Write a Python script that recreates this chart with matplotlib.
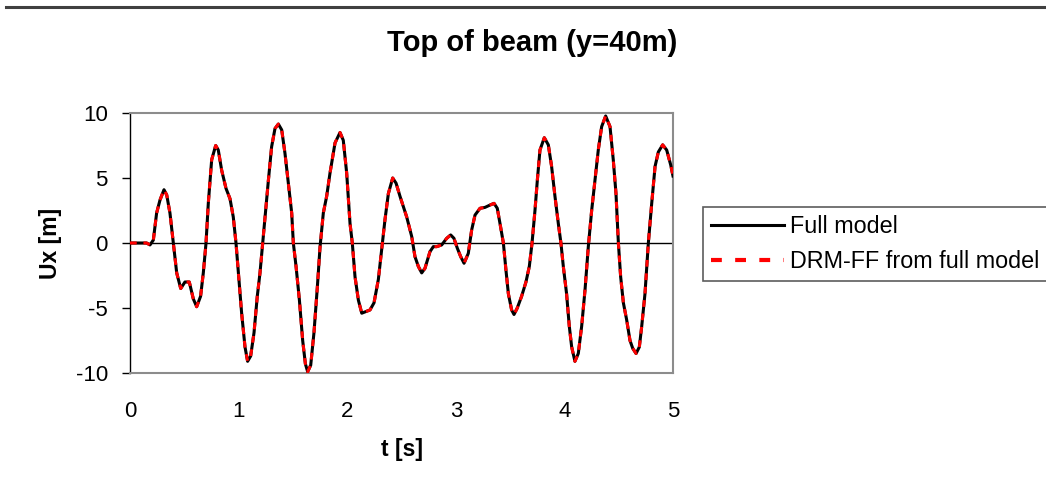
import matplotlib
matplotlib.use("Agg")
import matplotlib.pyplot as plt
from matplotlib.lines import Line2D

plt.rcParams['font.family'] = ['Liberation Sans', 'DejaVu Sans']
plt.rcParams['axes.unicode_minus'] = False

# digitized displacement history at top of beam
t = [0.0, 0.153, 0.184, 0.215, 0.245, 0.276, 0.313, 0.338, 0.368, 0.399,
     0.43, 0.467, 0.506, 0.546, 0.583, 0.614, 0.65, 0.675, 0.70, 0.721,
     0.752, 0.789, 0.813, 0.844, 0.884, 0.921, 0.951, 0.976, 0.998, 1.028,
     1.059, 1.083, 1.111, 1.142, 1.172, 1.197, 1.222, 1.246, 1.274, 1.304,
     1.335, 1.366, 1.397, 1.427, 1.458, 1.489, 1.504, 1.529, 1.56, 1.59,
     1.615, 1.636, 1.664, 1.694, 1.725, 1.75, 1.78, 1.811, 1.842, 1.888,
     1.934, 1.964, 1.995, 2.026, 2.047, 2.072, 2.103, 2.134, 2.164, 2.21,
     2.247, 2.287, 2.317, 2.348, 2.379, 2.419, 2.45, 2.486, 2.548, 2.594,
     2.624, 2.655, 2.686, 2.716, 2.762, 2.793, 2.824, 2.87, 2.916, 2.953,
     2.983, 3.014, 3.045, 3.076, 3.115, 3.146, 3.177, 3.223, 3.269, 3.315,
     3.352, 3.382, 3.407, 3.438, 3.462, 3.484, 3.514, 3.536, 3.566, 3.606,
     3.646, 3.677, 3.702, 3.729, 3.751, 3.775, 3.815, 3.852, 3.882, 3.913,
     3.944, 3.968, 3.99, 4.02, 4.045, 4.067, 4.097, 4.128, 4.159, 4.19,
     4.22, 4.251, 4.282, 4.312, 4.343, 4.38, 4.42, 4.45, 4.475, 4.497,
     4.518, 4.543, 4.573, 4.604, 4.629, 4.66, 4.69, 4.712, 4.742, 4.773,
     4.804, 4.835, 4.865, 4.905, 4.942, 4.979, 5.0]

u_full = [0.0, 0.0, -0.15, 0.23, 2.3, 3.3, 4.1, 3.7, 2.3, 0.0,
          -2.3, -3.5, -3.0, -3.0, -4.3, -4.9, -4.1, -2.3, 0.0, 3.05,
          6.4, 7.5, 7.15, 5.6, 4.2, 3.4, 2.0, 0.0, -2.3, -5.4,
          -8.0, -9.1, -8.7, -6.9, -4.1, -2.3, 0.0, 2.3, 4.8, 7.4,
          8.8, 9.15, 8.7, 6.9, 4.6, 2.3, 0.0, -1.8, -4.4, -7.5,
          -9.3, -9.9, -9.4, -6.9, -3.4, -0.3, 2.3, 3.6, 5.4, 7.7,
          8.5, 7.9, 5.4, 1.5, 0.0, -2.6, -4.4, -5.4, -5.3, -5.15,
          -4.6, -2.8, -0.5, 1.8, 3.8, 5.0, 4.6, 3.6, 2.0, 0.5,
          -1.05, -1.8, -2.3, -1.95, -0.67, -0.28, -0.28, -0.15, 0.36, 0.62,
          0.36, -0.4, -1.05, -1.56, -0.8, 1.0, 2.15, 2.67, 2.74, 2.92,
          3.05, 2.67, 1.5, 0.0, -2.1, -3.9, -5.15, -5.5, -5.0, -4.1,
          -3.0, -1.8, 0.0, 2.5, 4.85, 7.15, 8.1, 7.55, 5.9, 3.6,
          1.5, 0.0, -1.8, -3.9, -6.4, -8.0, -9.1, -8.5, -6.4, -3.6,
          -0.3, 2.5, 4.85, 7.15, 8.95, 9.77, 8.95, 6.4, 3.8, 0.0,
          -2.6, -4.6, -5.9, -7.5, -8.1, -8.5, -8.0, -6.4, -3.9, 0.0,
          3.05, 5.9, 7.0, 7.55, 7.15, 6.0, 5.15]

# DRM-FF result overlays the full model
u_drm = list(u_full)

x_ticks = [0, 1, 2, 3, 4, 5]
y_ticks = [-10, -5, 0, 5, 10]

fig = plt.figure(figsize=(10.46, 4.87), dpi=100)
ax = fig.add_axes([130 / 1046, 114 / 487, 543 / 1046, 260 / 487])

ax.plot(t, u_full, color='black', lw=2.2, label='Full model', zorder=3)
ax.plot(t, u_drm, color='#ff0000', lw=2.2, dashes=(2.2, 2.2),
        label='DRM-FF from full model', zorder=4)
ax.axhline(0, color='black', lw=1, zorder=2)

ax.set_xlim(0, 5)
ax.set_ylim(-10, 10)
ax.set_xticks(x_ticks)
ax.set_yticks(y_ticks)
ax.tick_params(axis='x', length=0, pad=20, labelsize=16)
ax.tick_params(axis='y', length=6, width=1, direction='out', pad=10, labelsize=16)

for side in ['top', 'right', 'bottom']:
    ax.spines[side].set_color('#8c8c8c')
    ax.spines[side].set_linewidth(1.5)
ax.spines['left'].set_color('black')
ax.spines['left'].set_linewidth(1)

ax.set_xlabel('t [s]', fontsize=16.5, fontweight='bold', labelpad=12)
fig.text(50 / 1046, 1 - 243 / 487, 'Ux [m]', fontsize=16.5, fontweight='bold',
         rotation=90, ha='center', va='center')
fig.text(532 / 1046, 1 - 43 / 487, 'Top of beam (y=40m)', fontsize=21,
         fontweight='bold', ha='center', va='center')

# rule across the top of the page
fig.add_artist(Line2D([6 / 1046, 1.0], [1 - 7 / 487, 1 - 7 / 487],
                      color='#404040', lw=2.2))

leg = ax.legend(loc='upper left', bbox_to_anchor=(703 / 1046, 1 - 207 / 487),
                bbox_transform=fig.transFigure, fontsize=16.8, frameon=True,
                fancybox=False, borderpad=0.35, handlelength=3.1,
                handletextpad=0.3, labelspacing=0.5, borderaxespad=0)
leg.get_frame().set_edgecolor('#333333')
leg.get_frame().set_linewidth(1.2)
leg.get_lines()[1].set_dashes((2.6, 3.2))
leg.get_lines()[1].set_linewidth(3)

fig.savefig('out.png', dpi=100)
